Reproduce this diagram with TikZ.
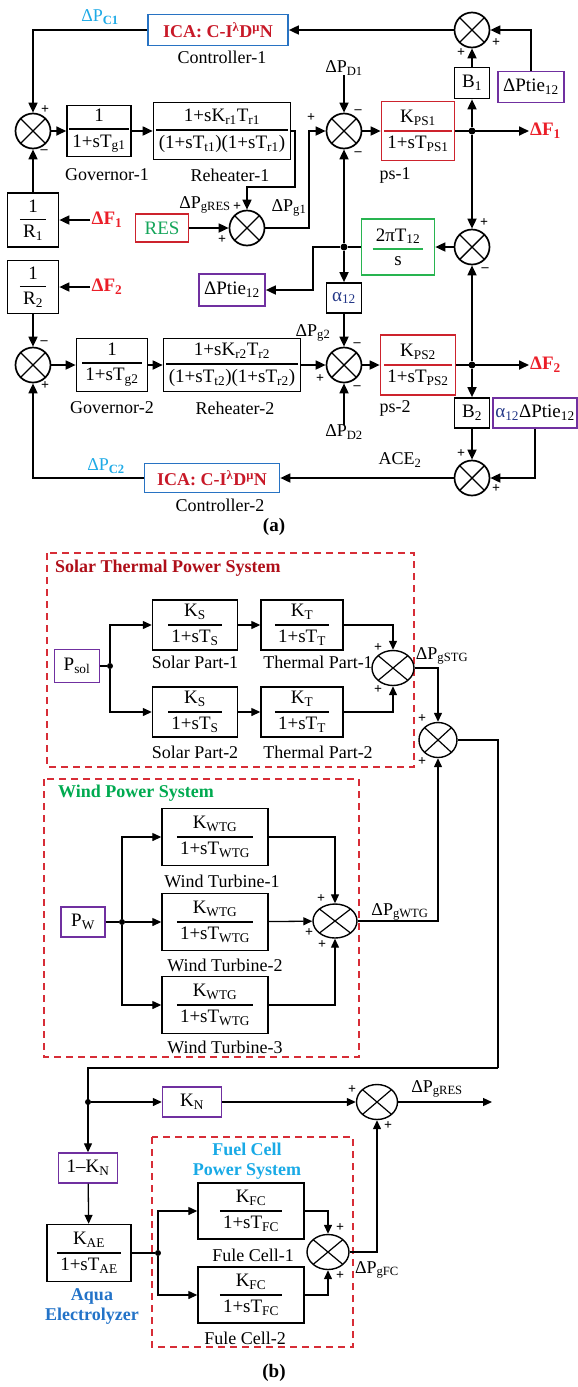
\documentclass[tikz,border=0pt]{standalone}
\usepackage{fontspec}
\setmainfont{Liberation Serif}
\usetikzlibrary{arrows.meta,shapes.geometric}

\definecolor{ctrlblue}{RGB}{40,115,195}
\definecolor{icared}{RGB}{200,25,40}
\definecolor{dfred}{RGB}{235,30,40}
\definecolor{pcyan}{RGB}{30,170,230}
\definecolor{psred}{RGB}{205,35,45}
\definecolor{resgreen}{RGB}{20,165,90}
\definecolor{tiegreen}{RGB}{40,180,80}
\definecolor{tiepurple}{RGB}{112,48,160}
\definecolor{alnavy}{RGB}{35,55,135}
\definecolor{grpred}{RGB}{215,45,55}
\definecolor{solred}{RGB}{175,15,25}
\definecolor{windgreen}{RGB}{0,170,80}
\definecolor{fcblue}{RGB}{25,170,230}
\definecolor{aquablue}{RGB}{35,115,200}

\newcommand{\fsz}[1]{\fontsize{#1}{#1}\selectfont}
\newcommand{\sbs}[1]{\textsubscript{#1}}
% transfer function with a (coloured) fraction bar
\newcommand{\trf}[3][black]{\textcolor{#1}{$\displaystyle{\mbox{\color{black}\,#2\,}\above1.5pt\mbox{\color{black}\,#3\,}}$}}

\begin{document}
\begin{tikzpicture}[x=1pt, y=-1pt,
        blk/.style={rectangle, draw, line width=1.7pt, inner sep=1pt, font=\fsz{19}},
        blkb/.style={rectangle, draw, line width=1.4pt, inner sep=1pt, font=\fsz{19}},
        sumj/.style={circle, draw, line width=1.7pt, minimum size=35pt, inner sep=0pt,
            path picture={\draw[line width=1.4pt] (path picture bounding box.north west) -- (path picture bounding box.south east)
                (path picture bounding box.north east) -- (path picture bounding box.south west);}},
        sumb/.style={ellipse, draw, line width=1.4pt, minimum width=42pt, minimum height=35pt, inner sep=0pt,
            path picture={\draw[line width=1.2pt] (path picture bounding box.north west) -- (path picture bounding box.south east)
                (path picture bounding box.north east) -- (path picture bounding box.south west);}},
        arrow/.style={-{Triangle[length=10pt,width=9pt]}, line width=1.7pt},
        arrowb/.style={-{Triangle[length=9pt,width=8pt]}, line width=1.3pt},
        wire/.style={line width=1.7pt},
        wireb/.style={line width=1.3pt},
        lbl/.style={font=\fsz{18}, inner sep=0pt},
        dflbl/.style={font=\bfseries\fsz{19}, text=dfred, inner sep=1pt},
        sgn/.style={font=\bfseries\fsz{14}, inner sep=0pt},
        dot/.style={circle, fill, inner sep=0pt, minimum size=7pt},
        grp/.style={draw=grpred, line width=1.4pt, dash pattern=on 7pt off 5pt},
        grptitle/.style={font=\bfseries\fsz{18}, inner sep=0pt}
    ]
    \useasboundingbox (0,0) rectangle (578,1387);

    % ---------------- (a) two-area system ----------------

    % Area-1 forward path
    \node[sumj] (s1) at (33,131) {};
    \node[blk, minimum width=62pt, minimum height=51pt] (gov1) at (99,131) {\trf{1}{1+sT\sbs{g1}}};
    \node[blk, minimum width=130pt, minimum height=57pt] (reh1) at (222,131) {\trf{1+sK\sbs{r1}T\sbs{r1}}{(1+sT\sbs{t1})(1+sT\sbs{r1})}};
    \node[sumj] (sd1) at (344,131) {};
    \node[blk, draw=psred, minimum width=73pt, minimum height=59pt] (ps1) at (418,131) {\trf[psred]{K\sbs{PS1}}{1+sT\sbs{PS1}}};
    \node[dot] (d1) at (472,131) {};
    \node[dflbl, anchor=west] (df1r) at (529,131) {ΔF\sbs{1}};

    \node[lbl] (lgov1) at (107,175) {Governor-1};
    \node[lbl] (lreh1) at (230,175) {Reheater-1};
    \node[lbl] (lps1) at (395,175) {ps-1};
    \node[lbl] (pd1) at (344,68) {ΔP\sbs{D1}};

    \draw[arrow] (s1) -- (gov1);
    \draw[arrow] (gov1) -- (reh1);
    \draw[arrow] (sd1) -- (ps1);
    \draw[arrow] (ps1) -- (df1r);
    \draw[arrow] (pd1) -- (sd1);

    % Controller-1 and ACE-1
    \node[blk, draw=ctrlblue, minimum width=140pt, minimum height=31pt, font=\bfseries\fsz{18}, text=icared] (ctrl1) at (218,30) {ICA: C-I\textsuperscript{λ}D\textsuperscript{μ}N};
    \node[lbl] (lctrl1) at (222,57) {Controller-1};
    \node[lbl, text=pcyan] (pc1) at (100,17) {ΔP\sbs{\textbf{C1}}};
    \node[sumj] (sace1) at (472,30) {};
    \node[blk, minimum width=35pt, minimum height=31pt] (b1) at (472,83) {B\sbs{1}};
    \node[blk, draw=tiepurple, minimum width=66pt, minimum height=31pt] (tier) at (531,87) {ΔPtie\sbs{12}};

    \draw[arrow] (d1) -- (b1);
    \draw[arrow] (b1) -- (sace1);
    \draw[arrow] (tier.north) |- (sace1.east);
    \draw[arrow] (sace1) -- (ctrl1);
    \draw[arrow] (ctrl1.west) -| (s1.north);

    % Droop 1/R1 and RES
    \node[blk, minimum width=51pt, minimum height=54pt] (r1) at (33,220) {\trf{1}{R\sbs{1}}};
    \node[dflbl] (df1l) at (107,220) {ΔF\sbs{1}};
    \node[blk, draw=psred, text=resgreen, minimum width=53pt, minimum height=28pt] (res) at (162,228) {RES};
    \node[sumj] (sres) at (247,228) {};
    \node[lbl] (pgres) at (205,205) {ΔP\sbs{gRES}};
    \node[lbl] (pg1) at (289,208) {ΔP\sbs{g1}};
    \coordinate (r1turn) at (295,187);
    \coordinate (g1in) at (309,131);

    \draw[arrow] (df1l) -- (r1);
    \draw[arrow] (r1) -- (s1);
    \draw[arrow] (res) -- (sres);
    \draw[arrow] (reh1.east) -| (r1turn) -| (sres.north);
    \draw[arrow] (sres.east) -| (g1in) -- (sd1.west);

    % Tie-line
    \node[blk, draw=tiegreen, minimum width=73pt, minimum height=56pt] (tie) at (398,247) {\trf[tiegreen]{2πT\sbs{12}}{s}};
    \node[sumj] (stie) at (472,247) {};
    \node[dot] (d2) at (344,247) {};
    \node[blk, draw=tiepurple, minimum width=66pt, minimum height=32pt] (tiel) at (232,290) {ΔPtie\sbs{12}};
    \node[blk, minimum width=35pt, minimum height=30pt, text=alnavy] (al) at (344,298) {α\sbs{12}};
    \coordinate (tieturn) at (313,247);

    \draw[arrow] (d1) -- (stie);
    \draw[arrow] (stie) -- (tie);
    \draw[wire] (tie) -- (d2);
    \draw[arrow] (d2) -- (sd1);
    \draw[arrow] (d2) -- (al);
    \draw[arrow] (d2) -- (tieturn) |- (tiel.east);

    % Area-2 forward path
    \node[blk, minimum width=51pt, minimum height=53pt] (r2) at (33,287) {\trf{1}{R\sbs{2}}};
    \node[dflbl] (df2l) at (107,287) {ΔF\sbs{2}};
    \node[sumj] (s2) at (33,365) {};
    \node[blk, minimum width=71pt, minimum height=53pt] (gov2) at (112,365) {\trf{1}{1+sT\sbs{g2}}};
    \node[blk, minimum width=131pt, minimum height=53pt] (reh2) at (232,365) {\trf{1+sK\sbs{r2}T\sbs{r2}}{(1+sT\sbs{t2})(1+sT\sbs{r2})}};
    \node[sumj] (sd2) at (344,365) {};
    \node[blk, draw=psred, minimum width=75pt, minimum height=60pt] (ps2) at (418,365) {\trf[psred]{K\sbs{PS2}}{1+sT\sbs{PS2}}};
    \node[dot] (d3) at (472,365) {};
    \node[dflbl, anchor=west] (df2r) at (529,365) {ΔF\sbs{2}};

    \node[lbl] (lgov2) at (112,408) {Governor-2};
    \node[lbl] (lreh2) at (235,408) {Reheater-2};
    \node[lbl] (lps2) at (395,408) {ps-2};
    \node[lbl] (pg2) at (313,333) {ΔP\sbs{g2}};
    \node[lbl] (pd2) at (344,432) {ΔP\sbs{D2}};

    \draw[arrow] (df2l) -- (r2);
    \draw[arrow] (r2) -- (s2);
    \draw[arrow] (s2) -- (gov2);
    \draw[arrow] (gov2) -- (reh2);
    \draw[arrow] (reh2) -- (sd2);
    \draw[arrow] (al) -- (sd2);
    \draw[arrow] (pd2) -- (sd2);
    \draw[arrow] (sd2) -- (ps2);
    \draw[arrow] (ps2) -- (df2r);
    \draw[arrow] (d3) -- (stie);

    % Controller-2 and ACE-2
    \node[blk, minimum width=35pt, minimum height=30pt] (b2) at (472,413) {B\sbs{2}};
    \node[blk, draw=tiepurple, minimum width=84pt, minimum height=30pt] (atie) at (535,413) {{\color{alnavy}α\sbs{12}}ΔPtie\sbs{12}};
    \node[sumj] (sace2) at (472,478) {};
    \node[lbl] (ace2) at (400,460) {ACE\sbs{2}};
    \node[blk, draw=ctrlblue, minimum width=135pt, minimum height=29pt, font=\bfseries\fsz{18}, text=icared] (ctrl2) at (212,478) {ICA: C-I\textsuperscript{λ}D\textsuperscript{μ}N};
    \node[lbl] (lctrl2) at (220,505) {Controller-2};
    \node[lbl, text=pcyan] (pc2) at (106,466) {ΔP\sbs{\textbf{C2}}};

    \draw[arrow] (d3) -- (b2);
    \draw[arrow] (b2) -- (sace2);
    \draw[arrow] (atie.south) |- (sace2.east);
    \draw[arrow] (sace2) -- (ctrl2);
    \draw[arrow] (ctrl2.west) -| (s2.south);

    % signs (a)
    \node[sgn] at (45,110) {+};   \node[sgn] at (44,152) {\textendash};
    \node[sgn] at (311,118) {+};  \node[sgn] at (358,112) {\textendash}; \node[sgn] at (358,154) {\textendash};
    \node[sgn] at (461,53) {+};   \node[sgn] at (496,43) {+};
    \node[sgn] at (237,207) {+};  \node[sgn] at (222,240) {+};
    \node[sgn] at (484,223) {+};  \node[sgn] at (485,270) {\textendash};
    \node[sgn] at (44,343) {\textendash}; \node[sgn] at (45,386) {+};
    \node[sgn] at (357,345) {\textendash}; \node[sgn] at (320,379) {+}; \node[sgn] at (357,388) {\textendash};
    \node[sgn] at (461,454) {+};  \node[sgn] at (496,489) {+};

    \node[font=\bfseries\fsz{19}] (cap1) at (274,527) {(a)};

    % ---------------- (b) renewable sources ----------------

    % Solar thermal
    \draw[grp] (47,553) rectangle (414,767);
    \node[grptitle, text=solred, anchor=west] (soltitle) at (55,568) {Solar Thermal Power System};
    \node[blkb, draw=tiepurple, minimum width=45pt, minimum height=33pt] (psol) at (77,666) {P\sbs{sol}};
    \node[dot, minimum size=6pt] (d4) at (110,666) {};
    \node[blkb, minimum width=85pt, minimum height=50pt] (sp1) at (195,625) {\trf{K\sbs{S}}{1+sT\sbs{S}}};
    \node[blkb, minimum width=82pt, minimum height=50pt] (tp1) at (302,625) {\trf{K\sbs{T}}{1+sT\sbs{T}}};
    \node[blkb, minimum width=85pt, minimum height=50pt] (sp2) at (195,712) {\trf{K\sbs{S}}{1+sT\sbs{S}}};
    \node[blkb, minimum width=82pt, minimum height=50pt] (tp2) at (302,712) {\trf{K\sbs{T}}{1+sT\sbs{T}}};
    \node[lbl] (lsp1) at (195,662) {Solar Part-1};
    \node[lbl] (ltp1) at (318,662) {Thermal Part-1};
    \node[lbl] (lsp2) at (195,752) {Solar Part-2};
    \node[lbl] (ltp2) at (318,752) {Thermal Part-2};
    \node[sumb] (sstg) at (393,668) {};
    \node[lbl] (pgstg) at (442,656) {ΔP\sbs{gSTG}};
    \node[sumb, minimum width=38pt] (stot) at (438,740) {};

    \draw[wireb] (psol) -- (d4);
    \draw[arrowb] (d4) |- (sp1.west);
    \draw[arrowb] (d4) |- (sp2.west);
    \draw[arrowb] (sp1) -- (tp1);
    \draw[arrowb] (sp2) -- (tp2);
    \draw[arrowb] (tp1.east) -| (sstg.north);
    \draw[arrowb] (tp2.east) -| (sstg.south);
    \draw[arrowb] (sstg.east) -| (stot.north);

    % Wind
    \draw[grp] (44,779) rectangle (359,1057);
    \node[grptitle, text=windgreen, anchor=west] (windtitle) at (58,793) {Wind Power System};
    \node[blkb, draw=tiepurple, minimum width=44pt, minimum height=30pt] (pw) at (83,922) {P\sbs{W}};
    \node[dot, minimum size=6pt] (d5) at (122,922) {};
    \node[blkb, minimum width=106pt, minimum height=57pt] (wt1) at (215,837) {\trf{K\sbs{WTG}}{1+sT\sbs{WTG}}};
    \node[blkb, minimum width=106pt, minimum height=57pt] (wt2) at (215,922) {\trf{K\sbs{WTG}}{1+sT\sbs{WTG}}};
    \node[blkb, minimum width=106pt, minimum height=57pt] (wt3) at (215,1005) {\trf{K\sbs{WTG}}{1+sT\sbs{WTG}}};
    \node[lbl] (lwt1) at (222,881) {Wind Turbine-1};
    \node[lbl] (lwt2) at (225,965) {Wind Turbine-2};
    \node[lbl] (lwt3) at (225,1047) {Wind Turbine-3};
    \node[sumb, minimum width=44pt, minimum height=34pt] (swtg) at (335,921) {};
    \node[lbl] (pgwtg) at (400,912) {ΔP\sbs{gWTG}};

    \draw[wireb] (pw) -- (d5);
    \draw[arrowb] (d5) |- (wt1.west);
    \draw[arrowb] (d5) -- (wt2);
    \draw[arrowb] (d5) |- (wt3.west);
    \draw[arrowb] (wt1.east) -| (swtg.north);
    \draw[arrowb] (wt2) -- (swtg);
    \draw[arrowb] (wt3.east) -| (swtg.south);
    \draw[arrowb] (swtg.east) -| (stot.south);

    % Aqua electrolyzer branch
    \coordinate (rt) at (498,740);
    \coordinate (rb) at (498,1068);
    \node[dot, minimum size=6pt] (d6) at (88,1102) {};
    \node[blkb, draw=tiepurple, minimum width=59pt, minimum height=30pt] (kn) at (192,1102) {K\sbs{N}};
    \node[sumb, minimum width=41pt] (sres2) at (377,1102) {};
    \node[lbl] (pgres2) at (437,1089) {ΔP\sbs{gRES}};
    \coordinate (gres) at (492,1102);
    \node[blkb, draw=tiepurple, minimum width=59pt, minimum height=30pt] (omk) at (88,1168) {1\textendash K\sbs{N}};
    \node[blkb, minimum width=84pt, minimum height=57pt] (ae) at (89,1253) {\trf{K\sbs{AE}}{1+sT\sbs{AE}}};
    \node[grptitle, text=aquablue, align=center] (laqua) at (92,1306) {Aqua\\[2pt]Electrolyzer};

    \draw[wireb] (stot.east) -- (rt) -- (rb);
    \draw[arrowb] (rb) -| (omk.north);
    \draw[arrowb] (d6) -- (kn);
    \draw[arrowb] (kn) -- (sres2);
    \draw[arrowb] (sres2) -- (gres);
    \draw[arrowb] (omk) -- (ae);

    % Fuel cell
    \draw[grp] (152,1137) rectangle (353,1347);
    \node[grptitle, text=fcblue, align=center] (fctitle) at (247,1161) {Fuel Cell\\[2pt]Power System};
    \node[dot, minimum size=6pt] (d7) at (158,1253) {};
    \node[blkb, minimum width=106pt, minimum height=56pt] (fc1) at (251,1211) {\trf{K\sbs{FC}}{1+sT\sbs{FC}}};
    \node[blkb, minimum width=106pt, minimum height=56pt] (fc2) at (251,1295) {\trf{K\sbs{FC}}{1+sT\sbs{FC}}};
    \node[lbl] (lfc1) at (253,1255) {Fule Cell-1};
    \node[lbl] (lfc2) at (245,1338) {Fule Cell-2};
    \node[sumb] (sfc) at (328,1252) {};
    \node[lbl] (pgfc) at (377,1270) {ΔP\sbs{gFC}};

    \draw[wireb] (ae) -- (d7);
    \draw[arrowb] (d7) |- (fc1.west);
    \draw[arrowb] (d7) |- (fc2.west);
    \draw[arrowb] (fc1.east) -| (sfc.north);
    \draw[arrowb] (fc2.east) -| (sfc.south);
    \draw[arrowb] (sfc.east) -| (sres2.south);

    % signs (b)
    \node[sgn] at (378,648) {+};  \node[sgn] at (378,690) {+};
    \node[sgn] at (422,719) {+};  \node[sgn] at (422,762) {+};
    \node[sgn] at (321,899) {+};  \node[sgn] at (309,933) {+};  \node[sgn] at (322,945) {+};
    \node[sgn] at (352,1090) {+}; \node[sgn] at (388,1126) {+};
    \node[sgn] at (340,1228) {+}; \node[sgn] at (340,1276) {+};

    \node[font=\bfseries\fsz{19}] (cap2) at (274,1373) {(b)};

\end{tikzpicture}
\end{document}
